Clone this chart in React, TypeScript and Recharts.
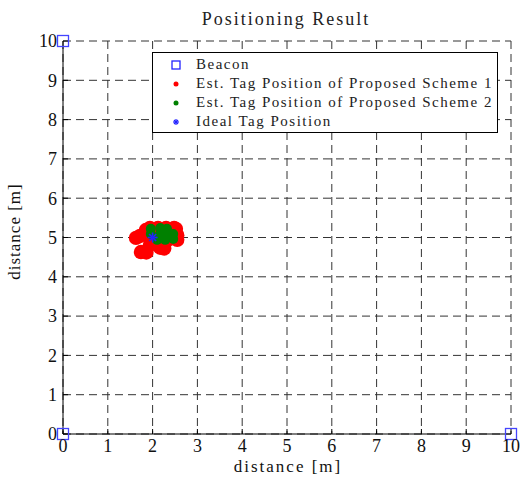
import React from 'react';
import { ScatterChart, Scatter, XAxis, YAxis, CartesianGrid } from 'recharts';

const ticks = [0, 1, 2, 3, 4, 5, 6, 7, 8, 9, 10];

const beaconX = [0, 0, 10];
const beaconY = [0, 10, 0];

const scheme1X = [1.94, 2.12, 2.30, 2.48, 2.52, 1.85, 1.63, 1.72, 1.74, 1.86, 2.17, 2.26, 2.55, 2.55, 1.99, 2.17, 2.34, 1.94];
const scheme1Y = [5.24, 5.24, 5.24, 5.24, 5.22, 5.19, 4.99, 5.04, 4.63, 4.62, 4.74, 4.72, 5.06, 4.94, 4.94, 4.99, 4.94, 4.81];

const scheme2X = [1.96, 2.17, 2.32, 2.46, 2.46, 2.28, 2.10, 1.96, 2.17, 2.32];
const scheme2Y = [5.22, 5.24, 5.22, 5.09, 4.96, 4.94, 4.94, 5.09, 5.09, 5.07];

const idealX = [2];
const idealY = [5];

const legendLabels = [
  'Beacon',
  'Est. Tag Position of Proposed Scheme 1',
  'Est. Tag Position of Proposed Scheme 2',
  'Ideal Tag Position',
];

const zip = (xs: number[], ys: number[]) => xs.map((x, i) => ({ x, y: ys[i] }));

const beaconData = zip(beaconX, beaconY);
const s1Data = zip(scheme1X, scheme1Y);
const s2Data = zip(scheme2X, scheme2Y);
const idealData = zip(idealX, idealY);

const FONT = '"Liberation Serif", "Times New Roman", serif';
const BLUE = '#2222ff';

const SquareShape = (p: any) => (
  <rect x={p.cx - 5.5} y={p.cy - 5.5} width={11} height={11} fill="none" stroke="#4444ff" strokeWidth={1.3} />
);
const RedShape = (p: any) => <circle cx={p.cx} cy={p.cy} r={7.2} fill="#ff0000" />;
const GreenShape = (p: any) => <circle cx={p.cx} cy={p.cy} r={5} fill="#008000" />;
const StarShape = (p: any) => (
  <g stroke={BLUE} strokeWidth={1.6}>
    <line x1={p.cx - 5} y1={p.cy} x2={p.cx + 5} y2={p.cy} />
    <line x1={p.cx} y1={p.cy - 5} x2={p.cx} y2={p.cy + 5} />
    <line x1={p.cx - 3.5} y1={p.cy - 3.5} x2={p.cx + 3.5} y2={p.cy + 3.5} />
    <line x1={p.cx - 3.5} y1={p.cy + 3.5} x2={p.cx + 3.5} y2={p.cy - 3.5} />
  </g>
);

const legendMarkers = [
  <rect x={4} y={4} width={8} height={8} fill="none" stroke={BLUE} strokeWidth={1.3} />,
  <circle cx={8} cy={8} r={2.5} fill="#ff0000" />,
  <circle cx={8} cy={8} r={2.5} fill="#008000" />,
  <g stroke={BLUE} strokeWidth={1.2}>
    <line x1={5} y1={8} x2={11} y2={8} />
    <line x1={8} y1={5} x2={8} y2={11} />
    <line x1={6} y1={6} x2={10} y2={10} />
    <line x1={6} y1={10} x2={10} y2={6} />
  </g>,
];

const LegendBox = () => (
  <div
    style={{
      position: 'absolute',
      left: 152,
      top: 52,
      width: 344,
      height: 77,
      border: '1.5px solid #000',
      background: '#fff',
      boxSizing: 'content-box',
      fontFamily: FONT,
      fontSize: 15,
      letterSpacing: '1.5px',
      color: '#222',
      paddingTop: 2,
    }}
  >
    {legendLabels.map((l, i) => (
      <div key={l} style={{ display: 'flex', alignItems: 'center', height: 19 }}>
        <svg width={16} height={16} style={{ marginLeft: 15, marginRight: 12 }}>
          {legendMarkers[i]}
        </svg>
        <span style={{ lineHeight: '19px', whiteSpace: 'nowrap' }}>{l}</span>
      </div>
    ))}
  </div>
);

const XLabel = (props: any) => {
  const vb = props.viewBox;
  return (
    <text x={vb.x + vb.width / 2 + 1} y={472} textAnchor="middle" fontSize={17} fill="#111" fontFamily={FONT} style={{ letterSpacing: '2px' }}>
      {props.value}
    </text>
  );
};

const YLabel = (props: any) => {
  const vb = props.viewBox;
  const cx = 20;
  const cy = vb.y + vb.height / 2 - 6;
  return (
    <text x={cx} y={cy} transform={`rotate(-90 ${cx} ${cy})`} textAnchor="middle" fontSize={17} fill="#111" fontFamily={FONT} style={{ letterSpacing: '1px' }}>
      {props.value}
    </text>
  );
};

export default function App() {
  return (
    <div style={{ position: 'absolute', left: 0, top: 0, width: 520, height: 478, background: '#fff' }}>
      <ScatterChart width={520} height={478} margin={{ top: 41, right: 9, bottom: 14, left: 13 }}>
        <CartesianGrid stroke="#333" strokeDasharray="8 5" strokeWidth={1} />
        <XAxis
          type="number"
          dataKey="x"
          domain={[0, 10]}
          ticks={ticks}
          height={30}
          stroke="#000"
          tickSize={-5}
          tickMargin={10}
          tick={{ fontSize: 18, fill: '#111', fontFamily: FONT }}
          label={{ value: 'distance [m]', content: XLabel }}
        />
        <YAxis
          type="number"
          dataKey="y"
          domain={[0, 10]}
          ticks={ticks}
          width={50}
          stroke="#000"
          tickSize={-5}
          tickMargin={11}
          tick={{ fontSize: 18, fill: '#111', fontFamily: FONT }}
          label={{ value: 'distance [m]', content: YLabel }}
        />
        <Scatter name="Beacon" data={beaconData} shape={SquareShape} isAnimationActive={false} />
        <Scatter name={legendLabels[1]} data={s1Data} shape={RedShape} isAnimationActive={false} />
        <Scatter name={legendLabels[2]} data={s2Data} shape={GreenShape} isAnimationActive={false} />
        <Scatter name={legendLabels[3]} data={idealData} shape={StarShape} isAnimationActive={false} />
      </ScatterChart>
      <LegendBox />
      <div
        style={{
          position: 'absolute',
          left: 0,
          top: 8,
          width: 572,
          textAlign: 'center',
          fontFamily: FONT,
          fontSize: 18,
          letterSpacing: '2px',
          color: '#222',
          lineHeight: '22px',
        }}
      >
        Positioning Result
      </div>
    </div>
  );
}
